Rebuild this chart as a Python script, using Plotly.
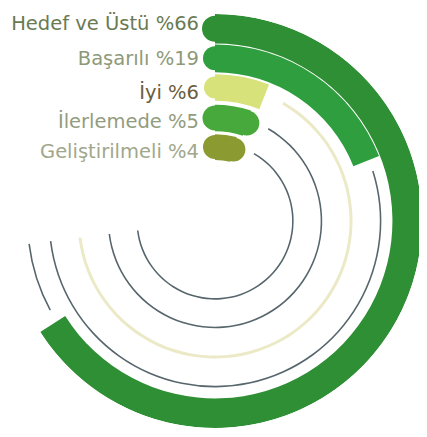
import plotly.graph_objects as go

# ---- data ----
categories = ["Hedef ve Üstü", "Başarılı", "İyi", "İlerlemede", "Geliştirilmeli"]
percents = [66, 19, 6, 5, 4]
labels = [f"{c} %{p}" for c, p in zip(categories, percents)]

# ---- style ----
bar_colors = ["#2f8f35", "#2e9e3e", "#d7e27a", "#47a93b", "#8b9a31"]
label_colors = ["#6a7a52", "#8e997a", "#6b5d3d", "#929c80", "#a0a78c"]
track_colors = ["#56666c", "#56666c", "#ebe9c6", "#56666c", "#56666c"]
track_widths = [1.6, 1.6, 3.0, 1.6, 1.6]
track_r = [190, 168, 138, 108, 79]
ring_inner = [180, 151, 122, 91, 62]
ring_thick = [30, 28, 27, 27, 26]
start_cap = [26, 24, 22, 25, 24]
end_cap = [0, 0, 0, 25, 24]
label_r = [199, 163, 129, 99, 69]
TRACK_GAP = 4
TRACK_MIN_START = 30
TRACK_END = 263
R_MAX = 210

fig = go.Figure()

for i, p in enumerate(percents):
    ang = p * 3.6
    start = max(ang + TRACK_GAP, TRACK_MIN_START)
    fig.add_trace(go.Barpolar(
        r=[track_widths[i]], base=[track_r[i] - track_widths[i] / 2],
        theta=[(start + TRACK_END) / 2], width=[TRACK_END - start],
        marker=dict(color=track_colors[i], line=dict(width=0)),
        hoverinfo="skip", showlegend=False))
    fig.add_trace(go.Barpolar(
        r=[ring_thick[i]], base=[ring_inner[i]],
        theta=[ang / 2], width=[ang],
        marker=dict(color=bar_colors[i], line=dict(width=0)),
        name=categories[i], showlegend=False))

ring_mid = [b + t / 2 for b, t in zip(ring_inner, ring_thick)]

# rounded starts
fig.add_trace(go.Scatterpolar(
    r=ring_mid, theta=[0] * len(percents), mode="markers",
    marker=dict(size=start_cap, color=bar_colors, opacity=1, line=dict(width=0)),
    hoverinfo="skip", showlegend=False))
# rounded ends of the short bars
idx = [i for i in range(len(percents)) if end_cap[i] > 0]
fig.add_trace(go.Scatterpolar(
    r=[ring_mid[i] for i in idx], theta=[percents[i] * 3.6 for i in idx],
    mode="markers",
    marker=dict(size=[end_cap[i] for i in idx], color=[bar_colors[i] for i in idx],
                opacity=1, line=dict(width=0)),
    hoverinfo="skip", showlegend=False))

fig.add_trace(go.Scatterpolar(
    r=label_r, theta=[0] * len(labels), mode="markers+text", text=labels,
    textposition="middle left",
    marker=dict(size=24, color="rgba(0,0,0,0)"),
    textfont=dict(family="DejaVu Sans", size=19.5, color=label_colors),
    hoverinfo="skip", showlegend=False))

fig.update_layout(
    width=419, height=429,
    margin=dict(l=0, r=5, t=6, b=9),
    paper_bgcolor="white",
    polar=dict(
        bgcolor="white",
        domain=dict(x=[0, 1], y=[0, 1]),
        radialaxis=dict(visible=False, range=[0, R_MAX]),
        angularaxis=dict(visible=False, rotation=90, direction="clockwise"),
        bargap=0,
    ),
    showlegend=False,
)

fig.write_html("out.html")
